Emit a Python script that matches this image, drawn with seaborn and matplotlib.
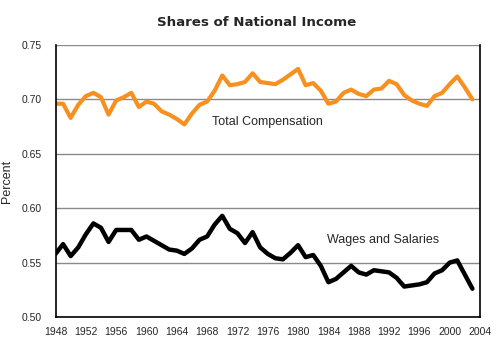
import numpy as np
import pandas as pd
import seaborn as sns
import matplotlib
matplotlib.use("Agg")
import matplotlib.pyplot as plt

years = list(range(1948, 2004))

total_comp = [
    0.696, 0.696, 0.683, 0.695, 0.703, 0.706, 0.702, 0.686, 0.699, 0.702,
    0.706, 0.693, 0.698, 0.696, 0.689, 0.686, 0.682, 0.677, 0.687, 0.695,
    0.698, 0.708, 0.722, 0.713, 0.714, 0.716, 0.724, 0.716, 0.715, 0.714,
    0.718, 0.723, 0.728, 0.713, 0.715, 0.708, 0.696, 0.698, 0.706, 0.709,
    0.705, 0.703, 0.709, 0.710, 0.717, 0.714, 0.704, 0.699, 0.696, 0.694,
    0.703, 0.706, 0.714, 0.721, 0.711, 0.700,
]

wages = [
    0.558, 0.567, 0.556, 0.564, 0.576, 0.586, 0.582, 0.569, 0.580, 0.580,
    0.580, 0.571, 0.574, 0.570, 0.566, 0.562, 0.561, 0.558, 0.563, 0.571,
    0.574, 0.585, 0.593, 0.581, 0.577, 0.568, 0.578, 0.564, 0.558, 0.554,
    0.553, 0.559, 0.566, 0.555, 0.557, 0.547, 0.532, 0.535, 0.541, 0.547,
    0.541, 0.539, 0.543, 0.542, 0.541, 0.536, 0.528, 0.529, 0.530, 0.532,
    0.540, 0.543, 0.550, 0.552, 0.539, 0.526,
]

series_labels = ["Total Compensation", "Wages and Salaries"]
year_ticks = list(range(1948, 2005, 4))
pct_ticks = [0.50, 0.55, 0.60, 0.65, 0.70, 0.75]

df = pd.DataFrame({"year": years, "total": total_comp, "wages": wages})

sns.set_style("white")
plt.rcParams["font.family"] = ["Liberation Sans", "DejaVu Sans"]

fig = plt.figure(figsize=(5.0, 3.57), dpi=100)
ax = fig.add_axes([0.111, 0.112, 0.849, 0.762])

for y in pct_ticks:
    ax.axhline(y, color="#8a8a8a", lw=1.0, zorder=0)

sns.lineplot(data=df, x="year", y="total", ax=ax, color="#f7901e", lw=3.0)
sns.lineplot(data=df, x="year", y="wages", ax=ax, color="black", lw=3.2)

ax.set_xlim(1948, 2004)
ax.set_ylim(0.50, 0.75)
ax.set_xticks(year_ticks)
ax.set_yticks(pct_ticks)
ax.set_yticklabels([f"{v:.2f}" for v in pct_ticks])
ax.tick_params(axis="x", direction="out", length=5, width=1, color="black",
               labelsize=7.5, pad=2)
ax.tick_params(axis="y", direction="out", length=7, width=1, color="#8a8a8a",
               labelsize=7.5, pad=3)

for side in ["left", "right", "bottom"]:
    ax.spines[side].set_color("black")
    ax.spines[side].set_linewidth(1.2)
ax.spines["top"].set_visible(False)

ax.set_xlabel("")
ax.set_ylabel("Percent", fontsize=9)
ax.yaxis.set_label_coords(-0.10, 0.5)

ax.text(1968.7, 0.679, series_labels[0], fontsize=9, va="center", ha="left")
ax.text(1983.8, 0.5705, series_labels[1], fontsize=9, va="center", ha="left")

fig.text(0.514, 0.936, "Shares of National Income", ha="center", va="center",
         fontsize=9.6, fontweight="bold", family=["DejaVu Sans"])

fig.savefig("out.png", dpi=100)
